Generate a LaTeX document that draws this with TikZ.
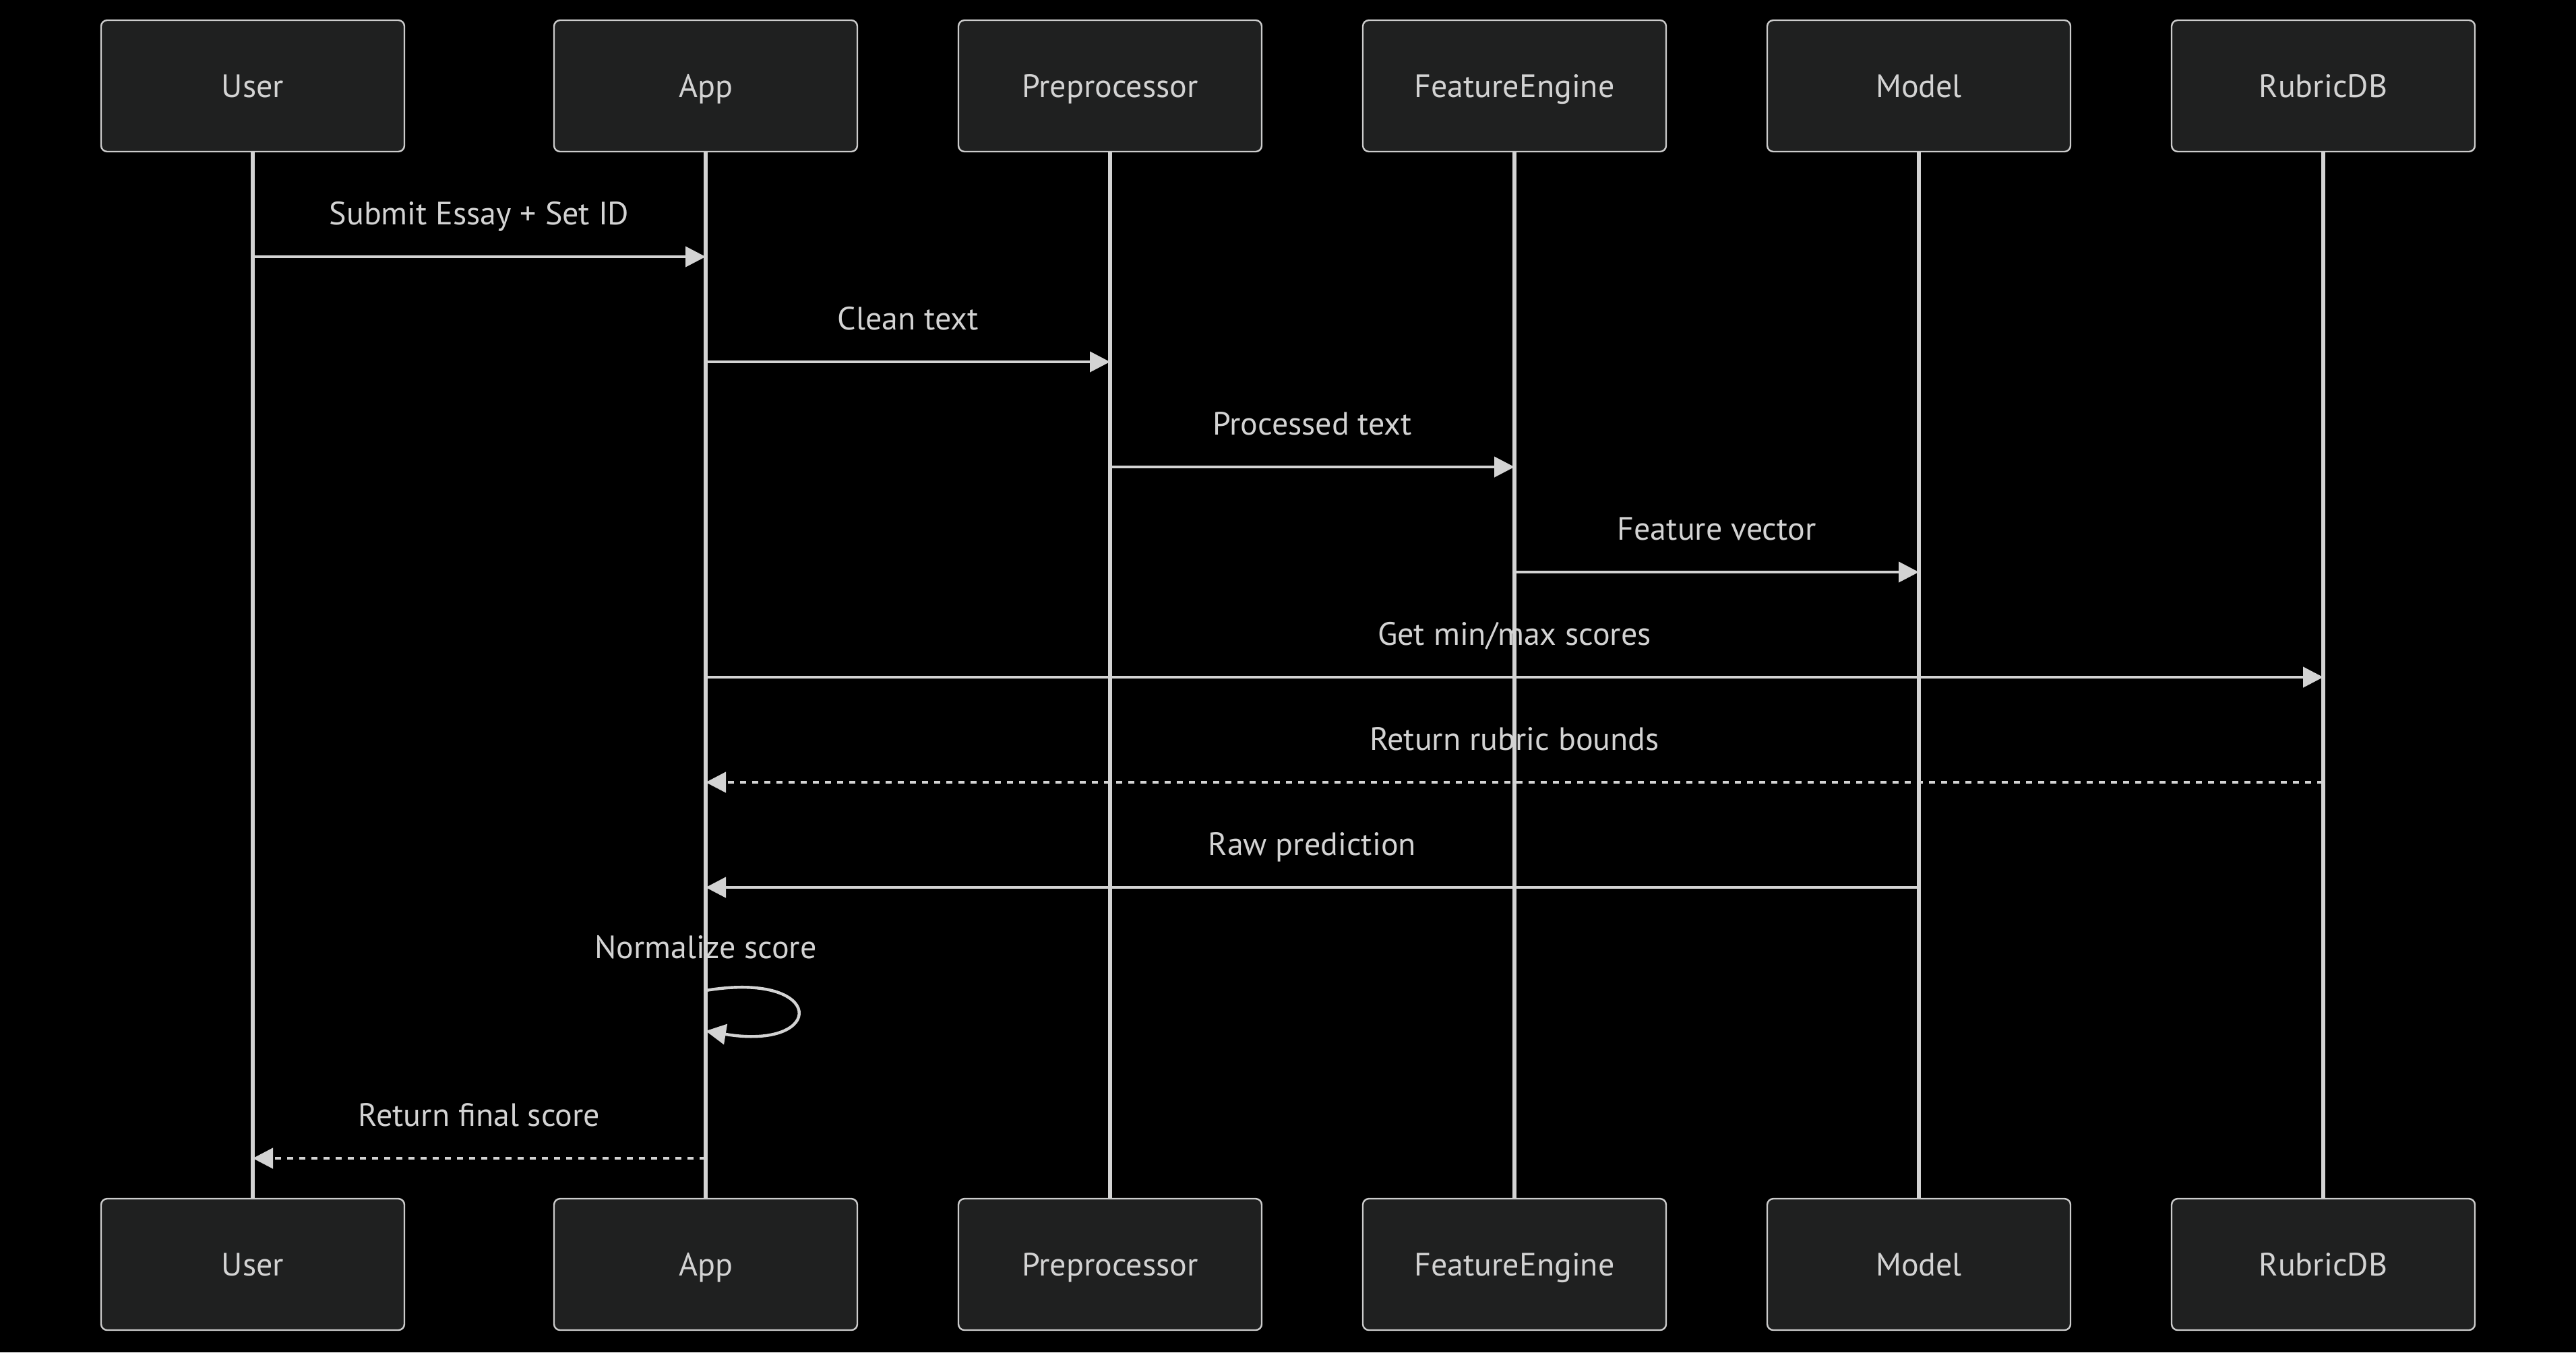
\documentclass[tikz,border=0pt]{standalone}
\usepackage{fontspec}
\setmainfont{PT Sans}
\usetikzlibrary{arrows.meta}
\definecolor{boxfill}{HTML}{1F2020}
\definecolor{boxline}{HTML}{CCCCCC}
\definecolor{inkgray}{HTML}{D3D3D3}

\begin{document}
\begin{tikzpicture}[x=0.75pt, y=-0.75pt,
        font=\fontsize{12pt}{14pt}\selectfont,
        >={Triangle[length=7.5pt, width=7.5pt]},
        actor/.style={draw=boxline, line width=0.6pt, fill=boxfill, rounded corners=2.25pt,
            minimum width=112.5pt, minimum height=48.75pt, inner sep=0pt,
            text=inkgray, text height=8.4pt, text depth=0pt},
        life/.style={draw=inkgray, line width=1.4pt},
        msg/.style={draw=inkgray, line width=1.1pt},
        reply/.style={msg, dash pattern=on 2.25pt off 2.25pt},
        said/.style={text=inkgray, anchor=base, yshift=12pt}]
        \fill[black] (0,0) rectangle (1274,669);

        % participants, top row
        \node[name=user, actor] at (125,42.5) {User};
        \node[name=app, actor] at (349,42.5) {App};
        \node[name=prep, actor] at (549,42.5) {Preprocessor};
        \node[name=feat, actor] at (749,42.5) {FeatureEngine};
        \node[name=model, actor] at (949,42.5) {Model};
        \node[name=rubric, actor] at (1149,42.5) {RubricDB};

        % participants, bottom row
        \node[name=user2, actor] at (125,625.5) {User};
        \node[name=app2, actor] at (349,625.5) {App};
        \node[name=prep2, actor] at (549,625.5) {Preprocessor};
        \node[name=feat2, actor] at (749,625.5) {FeatureEngine};
        \node[name=model2, actor] at (949,625.5) {Model};
        \node[name=rubric2, actor] at (1149,625.5) {RubricDB};

        % lifelines
        \draw[life] (user) -- (user2);
        \draw[life] (app) -- (app2);
        \draw[life] (prep) -- (prep2);
        \draw[life] (feat) -- (feat2);
        \draw[life] (model) -- (model2);
        \draw[life] (rubric) -- (rubric2);

        % message rows
        \coordinate (m1) at (0,127);
        \coordinate (m2) at (0,179);
        \coordinate (m3) at (0,231);
        \coordinate (m4) at (0,283);
        \coordinate (m5) at (0,335);
        \coordinate (m6) at (0,387);
        \coordinate (m7) at (0,439);
        \coordinate (m8) at (0,490);
        \coordinate (m8b) at (0,510);
        \coordinate (m9) at (0,573);

        \draw[msg, ->] (user |- m1) -- (app |- m1) node[said, midway] {Submit Essay + Set ID};
        \draw[msg, ->] (app |- m2) -- (prep |- m2) node[said, midway] {Clean text};
        \draw[msg, ->] (prep |- m3) -- (feat |- m3) node[said, midway] {Processed text};
        \draw[msg, ->] (feat |- m4) -- (model |- m4) node[said, midway] {Feature vector};
        \draw[msg, ->] (app |- m5) -- (rubric |- m5) node[said, midway] {Get min/max scores};
        \draw[reply, ->] (rubric |- m6) -- (app |- m6) node[said, midway] {Return rubric bounds};
        \draw[msg, ->] (model |- m7) -- (app |- m7) node[said, midway] {Raw prediction};

        % self call on App
        \node[name=normlabel, said] at (app |- m8) {Normalize score};
        \draw[msg, ->] (app |- m8) .. controls +(60,-10) and +(60,10) .. (app |- m8b);

        \draw[reply, ->] (app |- m9) -- (user |- m9) node[said, midway] {Return final score};
    \end{tikzpicture}
\end{document}
